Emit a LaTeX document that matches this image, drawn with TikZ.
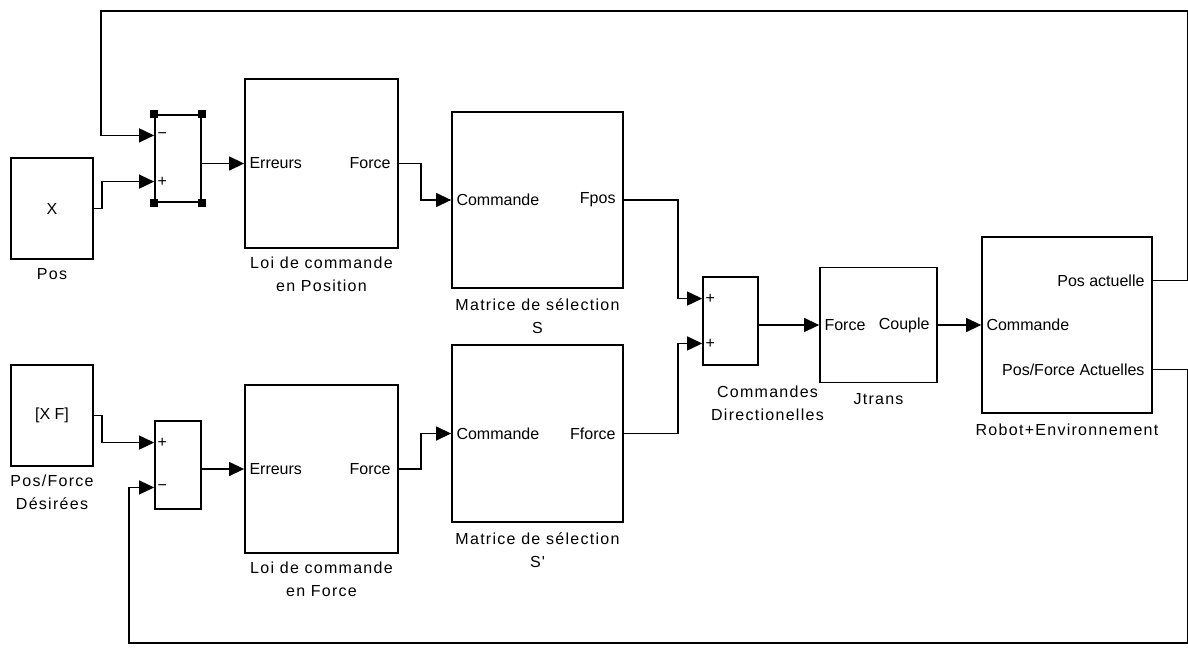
\documentclass[tikz,border=0pt]{standalone}
\usepackage{fontspec}
\setmainfont{Liberation Sans}
\newfontfamily\lblfont[LetterSpace=8]{Liberation Sans}
\usepackage{tikz}
\usetikzlibrary{arrows.meta, positioning, calc}

\begin{document}
\begin{tikzpicture}[
    x=0.5pt, y=-0.5pt,
    blk/.style={rectangle, draw, line width=0.9pt, inner sep=0pt,
                font=\fontsize{8}{9}\selectfont},
    sig/.style={-{Triangle[length=7.5pt, width=7pt]}, line width=0.7pt},
    portl/.style={anchor=west, inner sep=2.5pt, font=\fontsize{8}{9}\selectfont},
    portr/.style={anchor=east, inner sep=2.5pt, xshift=-1.5pt, font=\fontsize{8}{9}\selectfont},
    sign/.style={anchor=west, inner sep=1.5pt, font=\fontsize{8}{9}\selectfont},
    lbl/.style={font=\lblfont\fontsize{8}{11.5}\selectfont, align=center, inner sep=0pt},
    handle/.style={rectangle, draw=black, fill=white, line width=2pt,
                   minimum size=2pt, inner sep=0pt},
]
    \useasboundingbox (0,0) rectangle (1188,648);

    % sources
    \node[blk, minimum width=41pt, minimum height=50.5pt] (pos) at (52,208.5) {X};
    \node[blk, minimum width=41pt, minimum height=50.5pt] (des) at (52,415.5) {[X F]};
    \node[lbl, below=4pt of pos] (posL) {Pos};
    \node[lbl, below=4pt of des] (desL) {Pos/Force\\Désirées};

    % sums
    \node[blk, minimum width=23pt, minimum height=43.5pt] (sum1) at (178,158.5) {};
    \node[blk, minimum width=23pt, minimum height=44pt] (sum2) at (178,465) {};
    \node[blk, minimum width=27.5pt, minimum height=44pt] (sum3) at (730.5,321) {};
    \node[lbl, below=10pt of sum3, xshift=18.5pt] (sum3L) {Commandes\\Directionelles};
    \foreach \c in {north west, north east, south west, south east}
        \node[handle] at (sum1.\c) {};

    % control laws and selection matrices
    \node[blk, minimum width=76.5pt, minimum height=84.5pt] (loiP) at (321.5,163.5) {};
    \node[blk, minimum width=76.5pt, minimum height=84pt] (loiF) at (321.5,469) {};
    \node[blk, minimum width=85.5pt, minimum height=88pt] (matS) at (537.5,200) {};
    \node[blk, minimum width=85.5pt, minimum height=88.5pt] (matS2) at (537.5,433.5) {};
    \node[lbl, below=4pt of loiP] (loiPL) {Loi de commande\\en Position};
    \node[lbl, below=4pt of loiF] (loiFL) {Loi de commande\\en Force};
    \node[lbl, below=4.5pt of matS] (matSL) {Matrice de sélection\\S};
    \node[lbl, below=4.5pt of matS2] (matS2L) {Matrice de sélection\\S'};

    % Jtrans and robot
    \node[blk, minimum width=58.5pt, minimum height=57.5pt] (jtr) at (878.5,325) {};
    \node[blk, minimum width=85pt, minimum height=88pt] (rob) at (1067,325) {};
    \node[lbl, below=5pt of jtr] (jtrL) {Jtrans};
    \node[lbl, below=5pt of rob] (robL) {Robot+Environnement};

    % ports
    \coordinate (sum1-in1) at ($(sum1.north west)!0.24!(sum1.south west)$);
    \coordinate (sum1-in2) at ($(sum1.north west)!0.76!(sum1.south west)$);
    \coordinate (sum2-in1) at ($(sum2.north west)!0.25!(sum2.south west)$);
    \coordinate (sum2-in2) at ($(sum2.north west)!0.75!(sum2.south west)$);
    \coordinate (sum3-in1) at ($(sum3.north west)!0.25!(sum3.south west)$);
    \coordinate (sum3-in2) at ($(sum3.north west)!0.75!(sum3.south west)$);
    \coordinate (rob-out1) at ($(rob.north east)!0.25!(rob.south east)$);
    \coordinate (rob-out2) at ($(rob.north east)!0.75!(rob.south east)$);
    \coordinate (fbtop) at (101,11);
    \coordinate (fbbot) at (129,643);

    \node[sign] at (sum1-in1) {−};
    \node[sign] at (sum1-in2) {+};
    \node[sign] at (sum2-in1) {+};
    \node[sign] at (sum2-in2) {−};
    \node[sign] at (sum3-in1) {+};
    \node[sign] at (sum3-in2) {+};

    \node[portl] at (loiP.west) {Erreurs};
    \node[portr] at (loiP.east) {Force};
    \node[portl] at (loiF.west) {Erreurs};
    \node[portr] at (loiF.east) {Force};
    \node[portl] at (matS.west) {Commande};
    \node[portr] at (matS.east) {Fpos};
    \node[portl] at (matS2.west) {Commande};
    \node[portr] at (matS2.east) {Fforce};
    \node[portl] at (jtr.west) {Force};
    \node[portr] at (jtr.east) {Couple};
    \node[portl] at (rob.west) {Commande};
    \node[portr] at (rob-out1) {Pos actuelle};
    \node[portr] at (rob-out2) {Pos/Force Actuelles};

    % signals
    \draw[sig] (pos.east) -- ++(8,0) |- (sum1-in2);
    \draw[sig] (des.east) -- ++(8,0) |- (sum2-in1);
    \draw[sig] (sum1.east |- loiP.west) -- (loiP.west);
    \draw[sig] (sum2.east |- loiF.west) -- (loiF.west);
    \draw[sig] (loiP.east) -- ++(22,0) |- (matS.west);
    \draw[sig] (loiF.east) -- ++(22,0) |- (matS2.west);
    \draw[sig] (matS.east) -- ++(54,0) |- (sum3-in1);
    \draw[sig] (matS2.east) -- ++(54,0) |- (sum3-in2);
    \draw[sig] (sum3.east |- jtr.west) -- (jtr.west);
    \draw[sig] (jtr.east) -- (rob.west);

    % feedback
    \draw[sig] (rob-out1) -- ++(35,0) |- (fbtop) |- (sum1-in1);
    \draw[sig] (rob-out2) -- ++(35,0) |- (fbbot) |- (sum2-in2);
\end{tikzpicture}
\end{document}
